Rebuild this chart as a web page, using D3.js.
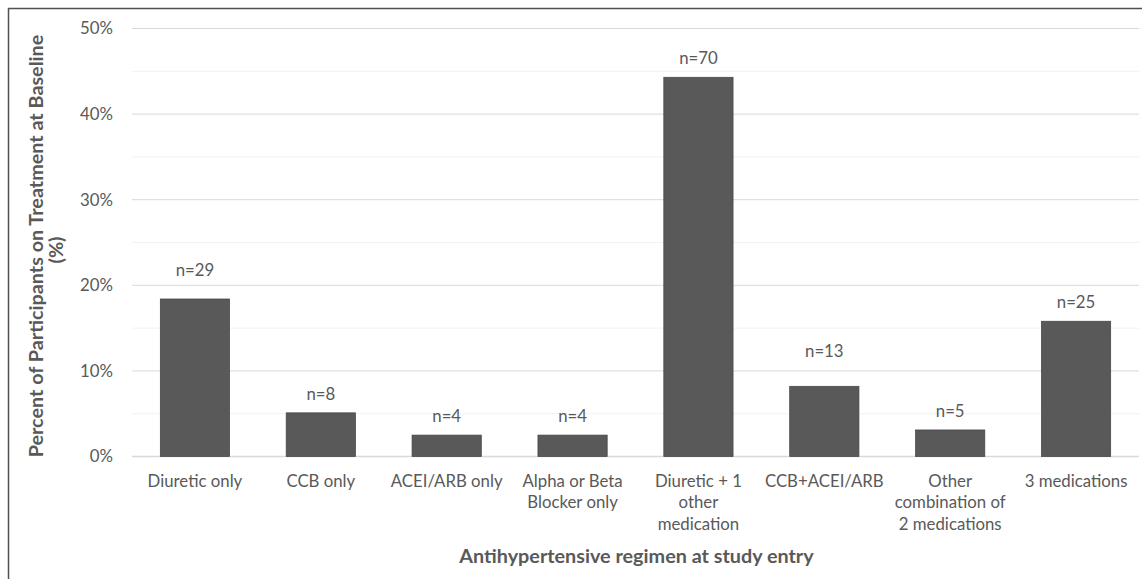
<!DOCTYPE html>
<html>
<head>
<meta charset="utf-8">
<script src="https://cdn.jsdelivr.net/npm/d3@7"></script>
<style>
  body { margin: 0; background: white; }
  text { font-family: Lato, 'Open Sans', sans-serif; fill: #595959; }
</style>
</head>
<body>
<script>
const categories = ['Diuretic only', 'CCB only', 'ACEI/ARB only', 'Alpha or Beta\nBlocker only',
    'Diuretic + 1\nother\nmedication', 'CCB+ACEI/ARB', 'Other\ncombination of\n2 medications', '3 medications']
const percents = [18.4, 5.1, 2.5, 2.5, 44.3, 8.2, 3.1, 15.8]
const counts = [29, 8, 4, 4, 70, 13, 5, 25]
const yTicks = [0, 10, 20, 30, 40, 50]
const gridTicks = [0, 5, 10, 15, 20, 25, 30, 35, 40, 45, 50]

// the n= labels were placed by hand in the original, two sit higher
const labelLift = [10, 0, 0, 0, 0, 16, 0, 0]

const W = 1142, H = 579
const margin = { top: 28.5, right: 3, bottom: 122.5, left: 132 }
const width = W - margin.left - margin.right
const height = H - margin.top - margin.bottom
const fs = 16.8
const titleFs = 19.8

const root = d3.select('body').append('svg')
    .attr('width', W)
    .attr('height', H)

root.append('rect')
    .attr('x', 8.5).attr('y', 8.5)
    .attr('width', W + 20).attr('height', H + 20)
    .attr('fill', 'white')
    .attr('stroke', '#505050')
    .attr('stroke-width', 1.5)

const svg = root.append('g')
    .attr('transform', `translate(${margin.left}, ${margin.top})`)

const xScale = d3.scaleBand()
    .domain(categories)
    .range([0, width])
    .paddingInner(0.45)
    .paddingOuter(0.225)

const yScale = d3.scaleLinear()
    .domain([0, 50])
    .range([height, 0])

// gridlines
svg.selectAll('.grid')
    .data(gridTicks)
    .enter().append('line')
    .attr('class', 'grid')
    .attr('x1', 0)
    .attr('x2', width)
    .attr('y1', d => yScale(d))
    .attr('y2', d => yScale(d))
    .attr('stroke', d => d % 10 === 0 ? '#d9d9d9' : '#f2f2f2')
    .attr('stroke-width', d => d === 0 ? 1.5 : 1)

const yAxis = svg.append('g')
    .attr('class', 'y axis')
    .call(d3.axisLeft(yScale).tickValues(yTicks).tickSize(0).tickPadding(19).tickFormat(d => d + '%'))
yAxis.select('.domain').remove()
yAxis.selectAll('text')
    .style('font-size', fs + 'px')
    .style('fill', '#595959')

const xAxis = svg.append('g')
    .attr('class', 'x axis')
    .attr('transform', `translate(0, ${height})`)
    .call(d3.axisBottom(xScale).tickSize(0))
xAxis.select('.domain').remove()
xAxis.selectAll('.tick text').each(function (d) {
    const t = d3.select(this).text(null).attr('y', 0).attr('dy', null)
        .style('font-size', fs + 'px').style('fill', '#595959')
    d.split('\n').forEach((line, i) => {
        t.append('tspan')
            .attr('x', 0)
            .attr('y', 30 + i * 21.7)
            .text(line)
    })
})

svg.selectAll('.bar')
    .data(percents)
    .enter().append('rect')
    .attr('class', 'bar')
    .attr('x', (d, i) => xScale(categories[i]))
    .attr('y', d => yScale(d))
    .attr('width', xScale.bandwidth())
    .attr('height', d => height - yScale(d))
    .style('fill', '#595959')
    .style('stroke', '#454545')
    .style('stroke-width', 0.75)

svg.selectAll('.title')
    .data(percents)
    .enter().append('text')
    .attr('class', 'title')
    .style('text-anchor', 'middle')
    .style('font-size', fs + 'px')
    .attr('x', (d, i) => xScale(categories[i]) + xScale.bandwidth() / 2)
    .attr('y', (d, i) => yScale(d) - 13 - labelLift[i])
    .text((d, i) => 'n=' + counts[i])

svg.append('text')
    .attr('x', width / 2 + 1)
    .attr('y', height + 106.5)
    .style('text-anchor', 'middle')
    .style('font-size', titleFs + 'px')
    .style('font-weight', 'bold')
    .text('Antihypertensive regimen at study entry')

const yTitle = root.append('text')
    .style('text-anchor', 'middle')
    .style('font-size', titleFs + 'px')
    .style('font-weight', 'bold')
    .attr('transform', 'rotate(-90)')
yTitle.append('tspan')
    .attr('x', -246)
    .attr('y', 42.5)
    .text('Percent of Participants on Treatment at Baseline')
yTitle.append('tspan')
    .attr('x', -250)
    .attr('y', 63)
    .text('(%)')
</script>
</body>
</html>
